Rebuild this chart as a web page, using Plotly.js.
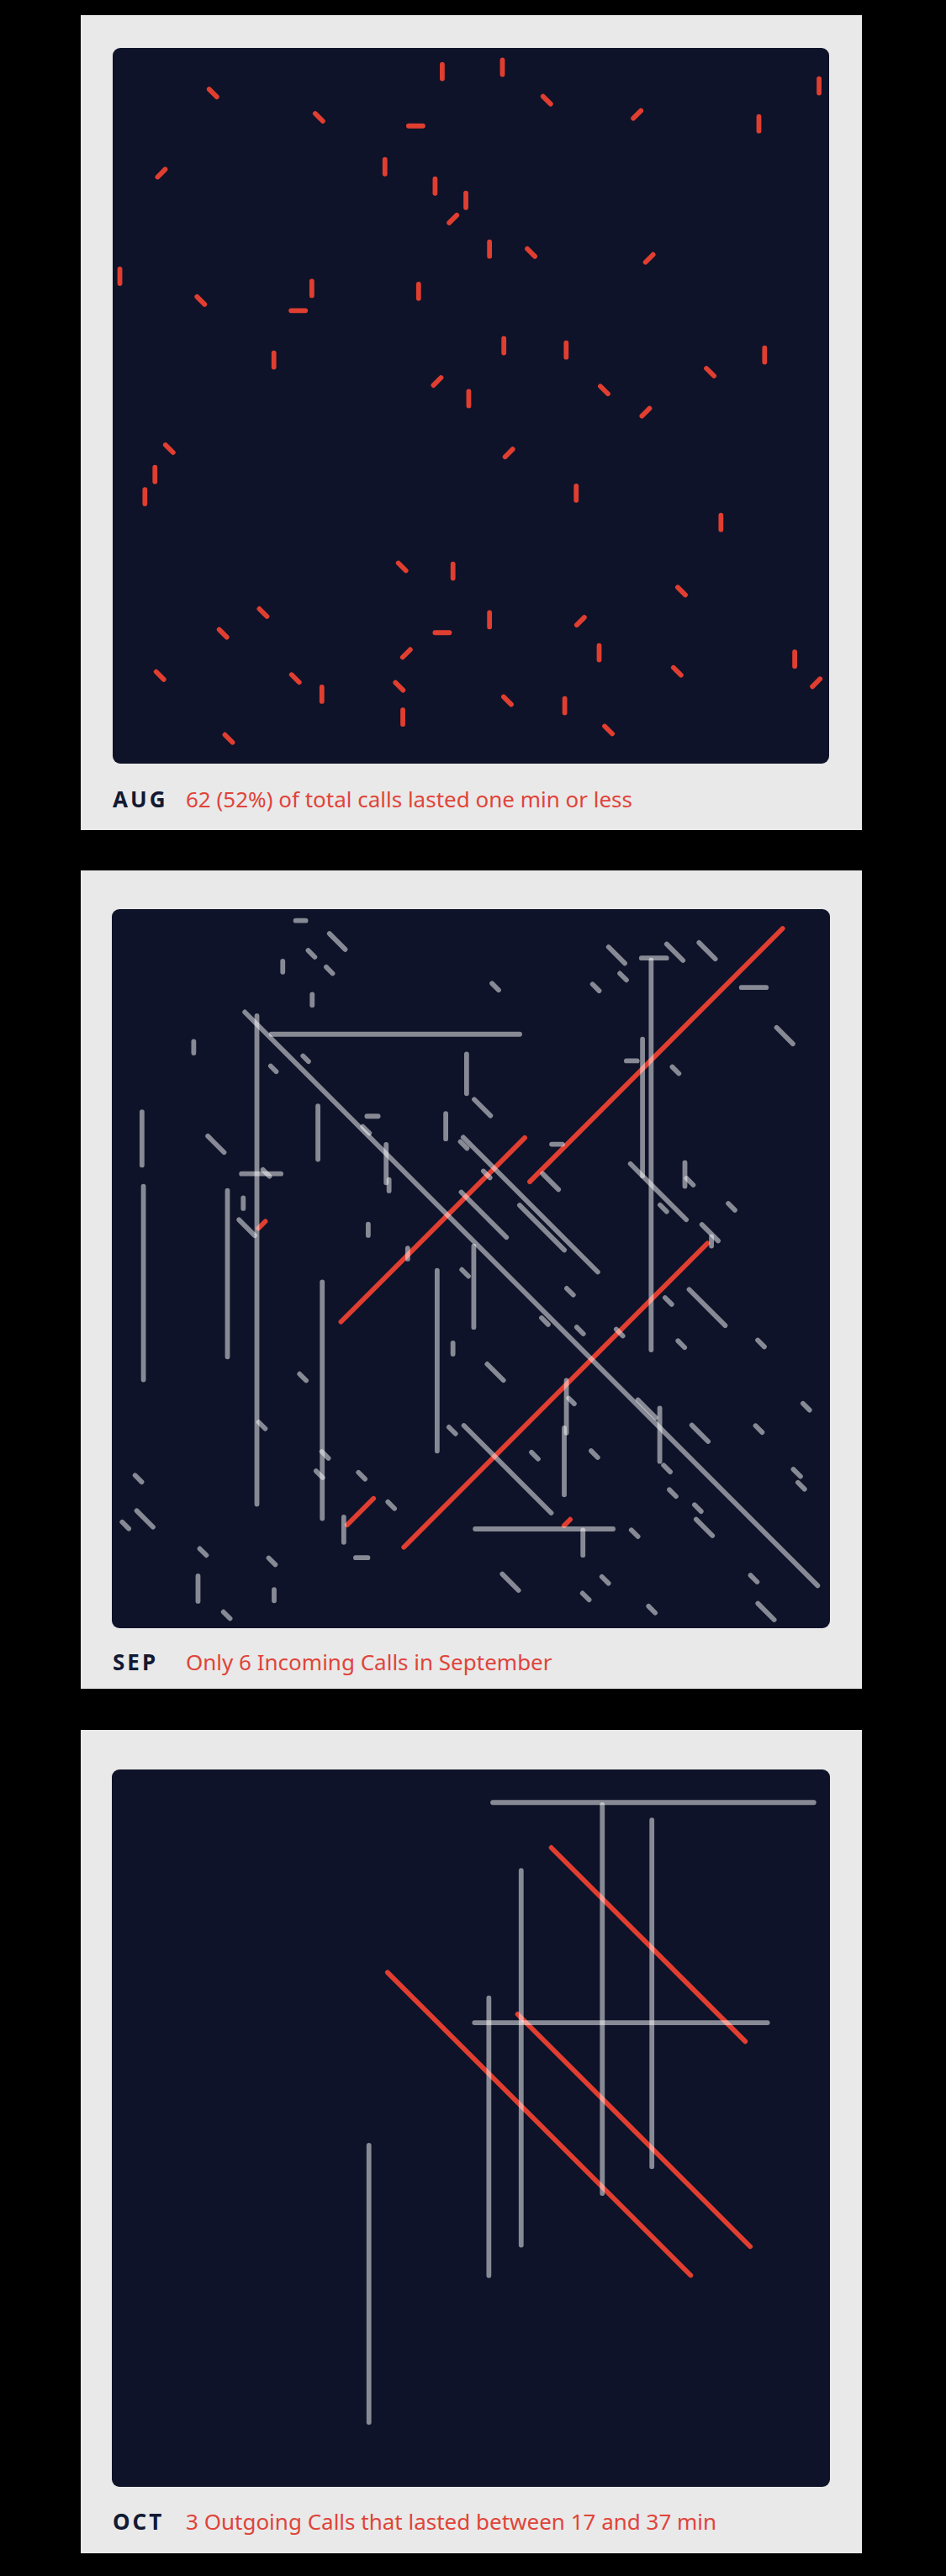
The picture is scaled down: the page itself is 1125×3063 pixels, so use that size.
<!DOCTYPE html>
<html>
<head>
<meta charset="utf-8">
<script src="https://cdn.plot.ly/plotly-3.0.1.min.js"></script>
<style>
  html, body { margin: 0; padding: 0; background: #000; }
  body { width: 1125px; height: 3063px; position: relative; overflow: hidden; font-family: "Noto Sans", "Open Sans", sans-serif; }
  .card { position: absolute; left: 96px; width: 929px; background: #e9e9e9; }
  .plot { position: absolute; border-radius: 9px; overflow: hidden; background: #0e1329; }
  .caption { position: absolute; left: 38px; white-space: nowrap; font-size: 26px; line-height: 26px; }
  .caption .month { font-weight: 700; letter-spacing: 3px; color: #121a33; }
  .caption .note { position: absolute; left: 87px; top: 0; color: #e0443a; }
  .js-line { stroke-linecap: round; }
</style>
</head>
<body>
<div id="cards"></div>
<script>
// Each call: centre (x, y) in a 0-100 field, angle (0 = across, 90 = down,
// 45 = "\", 135 = "/"), length, and whether it is highlighted in red.

// AUG: every drawn call is highlighted
const augX = [46.0, 54.4, 98.6, 14.0, 60.6, 28.8, 73.2, 42.3, 90.2, 6.8,
  38.0, 45.0, 49.3, 47.5, 52.6, 58.4, 74.9, 1.0, 12.3, 27.8,
  42.7, 25.9, 54.6, 63.3, 91.0, 22.5, 83.4, 45.3, 49.7, 68.6,
  74.4, 7.9, 55.3, 5.9, 4.5, 64.7, 84.9, 40.4, 47.5, 79.4,
  21.0, 52.6, 65.3, 15.4, 46.0, 41.0, 67.9, 95.2, 6.6, 25.5,
  78.8, 98.2, 29.2, 40.0, 55.1, 63.1, 40.5, 69.2, 16.2];
const augY = [3.3, 2.7, 5.3, 6.3, 7.3, 9.7, 9.3, 10.9, 10.6, 17.5,
  16.6, 19.3, 21.3, 23.9, 28.1, 28.6, 29.4, 31.9, 35.3, 33.6,
  34.0, 36.7, 41.6, 42.2, 42.9, 43.6, 45.3, 46.6, 49.0, 47.8,
  50.9, 56.0, 56.6, 59.6, 62.7, 62.2, 66.3, 72.5, 73.1, 75.9,
  78.9, 79.9, 80.1, 81.8, 81.7, 84.6, 84.5, 85.4, 87.7, 88.1,
  87.1, 88.7, 90.3, 89.2, 91.2, 91.9, 93.5, 95.3, 96.5];
const augAngle = [90, 90, 90, 45, 45, 45, 135, 0, 90, 135,
  90, 90, 90, 135, 90, 45, 135, 90, 45, 90,
  90, 0, 90, 90, 90, 90, 45, 135, 90, 45,
  135, 45, 135, 90, 90, 90, 90, 45, 90, 45,
  45, 90, 135, 45, 0, 135, 90, 90, 45, 45,
  45, 135, 90, 45, 45, 90, 90, 45, 45];
const augLen = [2.0, 2.0, 2.0, 1.5, 1.5, 1.5, 1.5, 2.0, 2.0, 1.5,
  2.0, 2.0, 2.0, 1.5, 2.0, 1.5, 1.5, 2.0, 1.5, 2.0,
  2.0, 2.0, 2.0, 2.0, 2.0, 2.0, 1.5, 1.5, 2.0, 1.5,
  1.5, 1.5, 1.5, 2.0, 2.0, 2.0, 2.0, 1.5, 2.0, 1.5,
  1.5, 2.0, 1.5, 1.5, 2.0, 1.5, 2.0, 2.0, 1.5, 1.5,
  1.5, 1.5, 2.0, 1.5, 1.5, 2.0, 2.0, 1.5, 1.5];

// SEP: red = incoming
const sepX = [26.3, 31.4, 27.8, 30.3, 23.8, 27.9, 58.4, 20.2, 39.5, 11.4,
  27.0, 22.5, 49.4, 4.2, 28.7, 36.3, 35.4, 46.5, 58.3, 49.0,
  14.5, 38.2, 38.6, 20.8, 21.5, 4.4, 16.1, 18.3, 18.8, 20.9,
  44.7, 35.7, 41.2, 51.8, 45.3, 49.2, 52.2, 75.8, 70.3, 78.4,
  82.9, 75.5, 75.1, 71.2, 67.4, 53.4, 89.4, 93.7, 73.9, 72.4,
  78.5, 51.6, 62.0, 61.1, 76.1, 79.8, 80.5, 76.8, 86.3, 83.3,
  83.5, 61.8, 59.9, 50.4, 63.8, 77.5, 82.9, 60.3, 65.2, 70.7,
  79.3, 90.4, 53.4, 63.3, 64.0, 63.0, 74.5, 76.3, 96.7, 81.9,
  90.1, 55.1, 58.9, 67.2, 77.3, 95.4, 96.0, 78.1, 81.6, 82.5,
  63.4, 60.2, 65.6, 72.8, 55.5, 68.7, 89.4, 66.0, 75.2, 91.1,
  29.3, 47.5, 26.6, 20.9, 47.4, 29.7, 28.9, 34.8, 3.7, 4.6,
  1.9, 34.6, 38.9, 32.3, 34.8, 12.7, 22.3, 12.0, 22.6, 16.0];
const sepY = [1.6, 4.5, 6.2, 8.5, 8.0, 12.6, 54.2, 48.8, 17.4, 19.2,
  20.8, 22.2, 22.9, 31.9, 31.1, 28.8, 30.7, 30.2, 41.1, 32.8,
  32.7, 35.4, 38.4, 36.8, 36.7, 52.0, 50.7, 40.9, 44.3, 43.9,
  44.6, 44.6, 47.9, 42.5, 62.8, 50.6, 36.9, 20.3, 6.4, 6.0,
  5.8, 6.8, 34.2, 9.4, 10.9, 10.8, 10.9, 17.6, 27.6, 21.1,
  22.4, 27.6, 32.7, 37.9, 39.3, 36.9, 37.9, 41.6, 41.4, 45.0,
  46.2, 67.6, 44.3, 52.5, 53.2, 54.5, 55.4, 57.3, 58.6, 58.9,
  60.5, 60.4, 64.4, 69.2, 68.4, 76.8, 69.5, 73.1, 69.2, 72.9,
  72.3, 77.9, 76.0, 75.8, 77.8, 78.4, 80.2, 81.2, 83.3, 86.0,
  85.3, 86.2, 88.1, 86.8, 93.6, 93.3, 93.1, 95.6, 97.4, 97.7,
  68.3, 61.1, 65.1, 71.8, 72.5, 75.9, 78.6, 78.8, 79.2, 84.8,
  85.7, 83.8, 82.9, 86.3, 90.2, 89.4, 90.7, 94.5, 95.4, 98.2];
const sepAngle = [0, 45, 45, 45, 90, 90, 45, 90, 0, 90,
  45, 45, 90, 90, 90, 0, 45, 90, 45, 45,
  45, 90, 90, 0, 45, 90, 90, 90, 45, 135,
  135, 90, 90, 45, 90, 45, 45, 135, 45, 45,
  45, 0, 90, 45, 45, 45, 0, 45, 90, 0,
  45, 45, 0, 45, 45, 90, 45, 45, 45, 45,
  90, 135, 45, 90, 45, 45, 45, 45, 45, 45,
  45, 45, 45, 90, 45, 90, 45, 90, 45, 45,
  45, 45, 45, 45, 45, 45, 45, 45, 45, 45,
  135, 0, 90, 45, 45, 45, 45, 45, 45, 45,
  90, 90, 45, 45, 45, 45, 45, 45, 45, 45,
  45, 135, 45, 90, 0, 45, 45, 90, 90, 45];
const sepLen = [1.4, 3.1, 1.3, 1.25, 1.5, 1.5, 112.8, 67.9, 34.6, 1.6,
  1.1, 1.1, 5.5, 7.4, 7.4, 1.55, 1.3, 3.5, 26.5, 1.3,
  3.2, 5.3, 1.55, 5.5, 1.3, 26.9, 23.1, 1.45, 3.1, 1.35,
  36.2, 1.55, 1.5, 8.9, 25.1, 1.3, 1.3, 49.8, 3.2, 3.2,
  3.2, 3.5, 54.2, 1.3, 1.3, 1.3, 3.45, 3.2, 19.0, 1.5,
  1.3, 3.2, 1.5, 3.1, 11.0, 3.3, 1.3, 1.3, 1.3, 3.2,
  1.3, 59.8, 8.8, 11.3, 1.3, 1.3, 7.1, 1.3, 1.3, 1.3,
  1.3, 1.3, 3.2, 7.3, 1.1, 9.3, 3.5, 7.4, 1.3, 3.2,
  1.3, 17.2, 1.3, 1.3, 1.3, 1.4, 1.3, 1.3, 1.3, 3.2,
  1.2, 19.2, 3.5, 1.3, 3.2, 1.3, 1.3, 1.3, 1.3, 3.2,
  32.9, 1.55, 1.3, 1.3, 1.3, 1.3, 1.3, 1.3, 1.3, 3.2,
  1.3, 5.2, 1.3, 3.5, 1.7, 1.3, 1.3, 3.5, 1.55, 1.3];
const sepHi = [0, 0, 0, 0, 0, 0, 0, 0, 0, 0,
  0, 0, 0, 0, 0, 0, 0, 0, 0, 0,
  0, 0, 0, 0, 0, 0, 0, 0, 0, 1,
  1, 0, 0, 0, 0, 0, 0, 1, 0, 0,
  0, 0, 0, 0, 0, 0, 0, 0, 0, 0,
  0, 0, 0, 0, 0, 0, 0, 0, 0, 0,
  0, 1, 0, 0, 0, 0, 0, 0, 0, 0,
  0, 0, 0, 0, 0, 0, 0, 0, 0, 0,
  0, 0, 0, 0, 0, 0, 0, 0, 0, 0,
  1, 0, 0, 0, 0, 0, 0, 0, 0, 0,
  0, 0, 0, 0, 0, 0, 0, 0, 0, 0,
  0, 1, 0, 0, 0, 0, 0, 0, 0, 0];

// OCT: red = outgoing calls of 17-37 min
const octX = [75.4, 68.3, 75.2, 74.7, 57.0, 59.5, 52.5, 35.8, 70.9, 72.7];
const octY = [4.6, 32.0, 31.2, 24.4, 40.2, 49.4, 51.2, 71.7, 35.3, 50.3];
const octAngle = [0, 90, 90, 45, 90, 45, 90, 90, 0, 45];
const octLen = [44.7, 54.2, 48.3, 38.2, 52.2, 59.7, 38.7, 38.6, 40.8, 45.8];
const octHi = [0, 0, 0, 1, 0, 1, 0, 0, 0, 1];

const months = ["AUG", "SEP", "OCT"];
const notes = [
  "62 (52%) of total calls lasted one min or less",
  "Only 6 Incoming Calls in September",
  "3 Outgoing Calls that lasted between 17 and 37 min",
];

const RED = "#e03e30";
const GREY = "rgba(255,255,255,0.5)";

const panels = [
  { x: augX, y: augY, angle: augAngle, len: augLen, hi: null,
    card: { top: 18, height: 969 }, plot: { left: 38, top: 39, w: 852, h: 851 }, captionTop: 919 },
  { x: sepX, y: sepY, angle: sepAngle, len: sepLen, hi: sepHi,
    card: { top: 1035, height: 973 }, plot: { left: 37, top: 46, w: 854, h: 855 }, captionTop: 928 },
  { x: octX, y: octY, angle: octAngle, len: octLen, hi: octHi,
    card: { top: 2057, height: 979 }, plot: { left: 37, top: 47, w: 854, h: 853 }, captionTop: 928 },
];

function segmentTrace(cx, cy, angle, len, color) {
  const a = (angle * Math.PI) / 180;
  const dx = (Math.cos(a) * len) / 2;
  const dy = (Math.sin(a) * len) / 2;
  return {
    type: "scatter",
    mode: "lines",
    x: [cx - dx, cx + dx],
    y: [cy - dy, cy + dy],
    line: { color: color, width: 5.8 },
    hoverinfo: "skip",
  };
}

function buildTraces(panel) {
  const red = [];
  const grey = [];
  panel.x.forEach((cx, i) => {
    const isHi = panel.hi ? panel.hi[i] === 1 : true;
    const trace = segmentTrace(cx, panel.y[i], panel.angle[i], panel.len[i], isHi ? RED : GREY);
    (isHi ? red : grey).push(trace);
  });
  // grey calls sit on top of the red ones
  return red.concat(grey);
}

const root = document.getElementById("cards");
panels.forEach((panel, k) => {
  const card = document.createElement("div");
  card.className = "card";
  card.style.top = panel.card.top + "px";
  card.style.height = panel.card.height + "px";

  const plot = document.createElement("div");
  plot.className = "plot";
  plot.style.left = panel.plot.left + "px";
  plot.style.top = panel.plot.top + "px";
  plot.style.width = panel.plot.w + "px";
  plot.style.height = panel.plot.h + "px";
  card.appendChild(plot);

  const caption = document.createElement("div");
  caption.className = "caption";
  caption.style.top = panel.captionTop + "px";
  caption.innerHTML = '<span class="month"></span><span class="note"></span>';
  caption.querySelector(".month").textContent = months[k];
  caption.querySelector(".note").textContent = notes[k];
  card.appendChild(caption);
  root.appendChild(card);

  const layout = {
    width: panel.plot.w,
    height: panel.plot.h,
    margin: { l: 0, r: 0, t: 0, b: 0 },
    paper_bgcolor: "rgba(0,0,0,0)",
    plot_bgcolor: "rgba(0,0,0,0)",
    showlegend: false,
    xaxis: { range: [0, 100], visible: false, fixedrange: true },
    yaxis: { range: [100, 0], visible: false, fixedrange: true },
  };

  Plotly.newPlot(plot, buildTraces(panel), layout, { staticPlot: true, displayModeBar: false });
});
</script>
</body>
</html>
